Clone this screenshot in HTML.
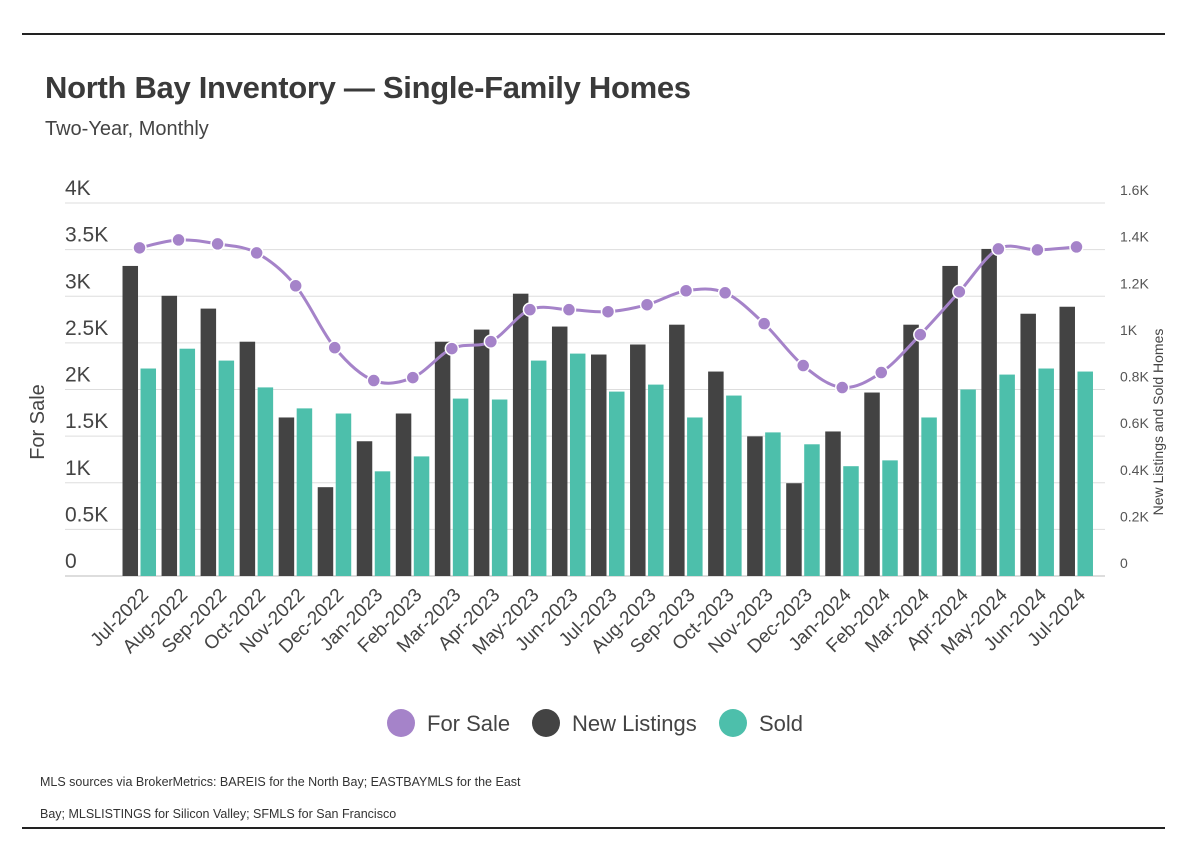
<!DOCTYPE html>
<html><head><meta charset="utf-8">
<style>
body{margin:0;background:#fff;width:1186px;height:858px;overflow:hidden;font-family:"Liberation Sans",sans-serif;color:#404040}
.rule{position:absolute;left:22px;width:1143px;height:2px;background:#222}
#title{position:absolute;left:45px;top:70px;font-size:31px;font-weight:bold;color:#3a3a3a;letter-spacing:-0.3px}
#sub{position:absolute;left:45px;top:118px;font-size:20px;color:#444}
#src{position:absolute;left:40px;top:766px;font-size:12.5px;line-height:32px;color:#333}
</style></head><body>
<div class="rule" style="top:33px"></div>
<div id="title">North Bay Inventory — Single-Family Homes</div>
<div id="sub">Two-Year, Monthly</div>
<svg id="chart" width="1186" height="858" style="position:absolute;left:0;top:0"></svg>
<div id="src">MLS sources via BrokerMetrics: BAREIS for the North Bay; EASTBAYMLS for the East<br>Bay; MLSLISTINGS for Silicon Valley; SFMLS for San Francisco</div>
<div class="rule" style="top:827px"></div>
<script>
const categories=["Jul-2022","Aug-2022","Sep-2022","Oct-2022","Nov-2022","Dec-2022","Jan-2023","Feb-2023","Mar-2023","Apr-2023","May-2023","Jun-2023","Jul-2023","Aug-2023","Sep-2023","Oct-2023","Nov-2023","Dec-2023","Jan-2024","Feb-2024","Mar-2024","Apr-2024","May-2024","Jun-2024","Jul-2024"];
const forSale=[3519,3604,3561,3465,3112,2449,2096,2128,2439,2513,2856,2856,2834,2909,3059,3037,2706,2257,2021,2182,2588,3048,3508,3497,3529];
const newListings=[1330,1202,1147,1005,680,381,578,697,1005,1057,1211,1070,950,993,1078,877,599,398,620,787,1078,1330,1403,1125,1155];
const sold=[890,975,924,809,719,697,449,513,761,757,924,954,791,821,680,774,616,565,471,496,680,800,864,890,877];
const leftTicks=[0,500,1000,1500,2000,2500,3000,3500,4000];
const leftTickLabels=["0","0.5K","1K","1.5K","2K","2.5K","3K","3.5K","4K"];
const rightTicks=[0,200,400,600,800,1000,1200,1400,1600];
const rightTickLabels=["0","0.2K","0.4K","0.6K","0.8K","1K","1.2K","1.4K","1.6K"];

const svg=document.getElementById('chart');
const NS='http://www.w3.org/2000/svg';
const X0=120,BW=39.04,Y0=576,H=373,PL=65,PR=1105;
const yL=v=>Y0-v/4000*H, yR=v=>Y0-v/1600*H, xC=i=>X0+BW*(i+0.5);
function mk(t,a){const e=document.createElementNS(NS,t);for(const k in a)e.setAttribute(k,a[k]);svg.appendChild(e);return e;}
leftTicks.forEach((v,i)=>{
  const g=mk('line',{x1:PL,x2:PR,y1:yL(v),y2:yL(v),stroke:i==0?'#bbb':'#ddd','stroke-width':1});
  
  const t=mk('text',{x:65,y:yL(v)-8,'font-size':21,fill:'#444'});t.textContent=leftTickLabels[i];
  
});
rightTicks.forEach((v,i)=>{
  const t=mk('text',{x:1120,y:yR(v)-8,'font-size':14,fill:'#555'});t.textContent=rightTickLabels[i];
  
});
let t=mk('text',{x:0,y:0,'font-size':20,fill:'#444','text-anchor':'middle',transform:'translate(44,422) rotate(-90)'});t.textContent='For Sale';

t=mk('text',{x:0,y:0,'font-size':14,fill:'#444','text-anchor':'middle',transform:'translate(1163,422) rotate(-90)'});t.textContent='New Listings and Sold Homes';

categories.forEach((c,i)=>{
  const cx=xC(i);
  const b1=mk('rect',{x:cx-17,y:yR(newListings[i]),width:15.5,height:Y0-yR(newListings[i]),fill:'#434343'});
  
  const b2=mk('rect',{x:cx+1,y:yR(sold[i]),width:15.5,height:Y0-yR(sold[i]),fill:'#4dbfab'});
  
  const l=mk('text',{x:0,y:0,'font-size':19,fill:'#444','text-anchor':'end',transform:`translate(${cx+10},${Y0+20}) rotate(-45)`});l.textContent=c;
  
});
const pts=forSale.map((v,i)=>[xC(i),yL(v)]);
let d=`M${pts[0][0]},${pts[0][1]}`;
for(let i=0;i<pts.length-1;i++){const p0=pts[Math.max(0,i-1)],p1=pts[i],p2=pts[i+1],p3=pts[Math.min(pts.length-1,i+2)];
 d+=` C${p1[0]+(p2[0]-p0[0])/6},${p1[1]+(p2[1]-p0[1])/6} ${p2[0]-(p3[0]-p1[0])/6},${p2[1]-(p3[1]-p1[1])/6} ${p2[0]},${p2[1]}`;}
const ln=mk('path',{d,fill:'none',stroke:'#a583c9','stroke-width':3});

pts.forEach(p=>{const c=mk('circle',{cx:p[0],cy:p[1],r:6.5,fill:'#a583c9',stroke:'#fff','stroke-width':1.5});
 });
[["For Sale",'#a583c9',401],["New Listings",'#434343',546],["Sold",'#4dbfab',733]].forEach(([n,col,x])=>{
 const c=mk('circle',{cx:x,cy:723,r:14,fill:col});
 const tt=mk('text',{x:x+26,y:731,'font-size':22,fill:'#444'});tt.textContent=n;
 
});
</script>
</body></html>
